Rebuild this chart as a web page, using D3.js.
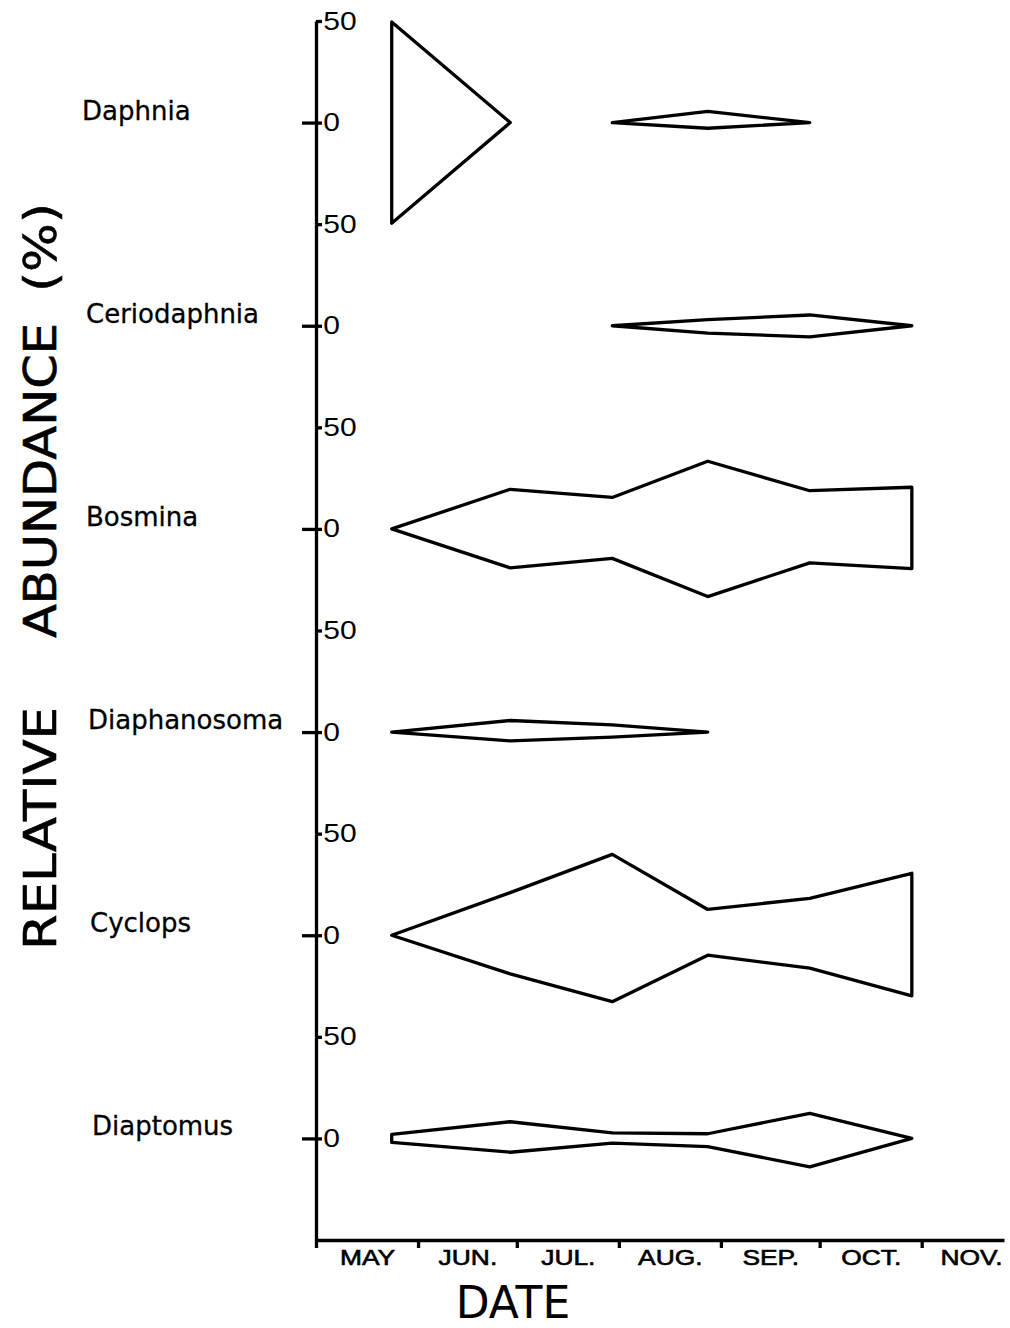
<!DOCTYPE html>
<html>
<head>
<meta charset="utf-8">
<script src="https://cdn.jsdelivr.net/npm/d3@7"></script>
<style>
  body { margin: 0; background: #fff; }
  svg { display: block; font-family: 'DejaVu Sans', sans-serif; }
</style>
</head>
<body>
<div id="chart"></div>
<script>
// Species, one kite per row (top to bottom)
const species = ['Daphnia', 'Ceriodaphnia', 'Bosmina', 'Diaphanosoma', 'Cyclops', 'Diaptomus'];

// Sampling dates (year is arbitrary, only month/day matter)
const sampleDates = ['2000-05-24', '2000-06-29', '2000-07-30', '2000-08-28', '2000-09-28', '2000-10-29'];

// Month labels on the date axis
const monthLabels = ['MAY', 'JUN.', 'JUL.', 'AUG.', 'SEP.', 'OCT.', 'NOV.'];

// Relative abundance (%) drawn above the zero line, one row per species
const upperHalf = [
    [49.5, 0, 0, 5.5, 0, 0],           // Daphnia
    [0, 0, 0, 3, 5.3, 0],              // Ceriodaphnia
    [0, 19.5, 15.5, 33.3, 18.8, 20.5], // Bosmina
    [0, 5.7, 3.5, 0, 0, 0],            // Diaphanosoma
    [0, 21, 39.8, 12.7, 18.2, 30.5],   // Cyclops
    [2, 8.2, 2.7, 2.3, 12.3, 0]        // Diaptomus
];

// Relative abundance (%) drawn below the zero line
const lowerHalf = [
    [49.5, 0, 0, 2.8, 0, 0],
    [0, 0, 0, 3.6, 5.5, 0],
    [0, 19.2, 14.5, 33.3, 16.7, 19.5],
    [0, 4.3, 2.5, 0, 0, 0],
    [0, 19, 32.7, 9.8, 16.2, 29.8],
    [2, 6.8, 2.3, 4, 14, 0]
];

const width = 1010;
const height = 1328;
const axisX = 316;
const axisY = 1240;
const stroke = 3.3;

const parseDate = d3.timeParse('%Y-%m-%d');
const dates = sampleDates.map(parseDate);

const svg = d3.select('#chart')
    .append('svg')
    .attr('width', width)
    .attr('height', height);

svg.append('rect')
    .attr('width', width)
    .attr('height', height)
    .attr('fill', '#fff');

// Scales
const x = d3.scaleTime()
    .domain([parseDate('2000-05-01'), parseDate('2000-11-26')])
    .range([axisX, 1004]);

const row = d3.scaleBand()
    .domain(species)
    .range([21, axisY])
    .paddingInner(0)
    .paddingOuter(0);

const half = d3.scaleLinear()
    .domain([0, 50])
    .range([0, row.bandwidth() / 2]);

// Split a species series into runs where the kite is non-zero
function kiteRuns(up, lo) {
    const runs = [];
    let cur = null;
    for (let i = 0; i < up.length - 1; i++) {
        const active = up[i] + lo[i] + up[i + 1] + lo[i + 1] > 0;
        if (active) {
            if (!cur) { cur = [i]; runs.push(cur); }
            cur.push(i + 1);
        } else {
            cur = null;
        }
    }
    return runs;
}

const line = d3.line();

// Draw kites
species.forEach((s, si) => {
    const cy = row(s) + row.bandwidth() / 2;
    const up = upperHalf[si];
    const lo = lowerHalf[si];

    kiteRuns(up, lo).forEach(run => {
        const top = run.map(i => [x(dates[i]), cy - half(up[i])]);
        const bottom = run.slice().reverse().map(i => [x(dates[i]), cy + half(lo[i])]);
        svg.append('path')
            .attr('d', line(top.concat(bottom)) + 'Z')
            .attr('fill', 'none')
            .attr('stroke', '#000')
            .attr('stroke-width', stroke)
            .attr('stroke-linejoin', 'round');
    });

    // Species label
    svg.append('text')
        .attr('x', [82, 86, 86, 88, 90, 92][si])
        .attr('y', cy - 3)
        .style('font-size', '26px')
        .attr('stroke', '#000')
        .attr('stroke-width', 0.3)
        .text(s);

    // Per-row y axis: 50 at the top, 0 at the centre
    const local = d3.scaleLinear()
        .domain([50, -50])
        .range([0, row.bandwidth()]);

    const g = svg.append('g')
        .attr('transform', `translate(${axisX},${row(s)})`)
        .call(d3.axisRight(local)
            .tickValues([50, 0])
            .tickSize(6)
            .tickSizeOuter(0)
            .tickPadding(0)
            .tickFormat(d => Math.abs(d)));

    g.select('.domain').attr('stroke-width', stroke);
    g.selectAll('.tick line').attr('stroke-width', stroke)
        .filter(d => d === 0).attr('x1', -14);
    g.selectAll('.tick text')
        .style('font-size', '25px')
        .attr('transform', 'scale(1.2,1)')
        .attr('fill', '#000');
});

// Date axis: month boundaries
const monthStarts = d3.timeMonth.range(parseDate('2000-05-01'), parseDate('2000-12-01'));

const xg = svg.append('g')
    .attr('transform', `translate(0,${axisY})`)
    .call(d3.axisBottom(x)
        .tickValues(monthStarts)
        .tickSize(8)
        .tickSizeOuter(0)
        .tickFormat(''));

xg.select('.domain').attr('stroke-width', stroke);
xg.selectAll('.tick line').attr('stroke-width', stroke);

// Month labels centred within each month
const midMonths = monthStarts.map(d => new Date((+d + +d3.timeMonth.offset(d, 1)) / 2));

const lg = svg.append('g')
    .attr('transform', `translate(0,${axisY})`)
    .call(d3.axisBottom(x)
        .tickValues(midMonths)
        .tickSize(0)
        .tickFormat((d, i) => monthLabels[i]));

lg.select('.domain').remove();
lg.selectAll('.tick text')
    .attr('y', 25)
    .attr('dy', null)
    .attr('fill', '#000')
    .attr('stroke', '#000')
    .attr('stroke-width', 0.6)
    .attr('transform', 'scale(1.2,1)')
    .style('font-size', '22px');

// Axis titles
svg.append('text')
    .attr('x', 513)
    .attr('y', 1318)
    .attr('text-anchor', 'middle')
    .style('font-size', '44px')
    .text('DATE');

const title = svg.append('text')
    .attr('transform', 'translate(56,950) rotate(-90)')
    .style('font-size', '45px')
    .attr('stroke', '#000')
    .attr('stroke-width', 0.6);

[['RELATIVE', 0, 243], ['ABUNDANCE', 312, 315], ['(%)', 658, 89]].forEach(([word, at, len]) => {
    title.append('tspan')
        .attr('x', at)
        .attr('y', 0)
        .attr('textLength', len)
        .attr('lengthAdjust', 'spacingAndGlyphs')
        .text(word);
});
</script>
</body>
</html>
